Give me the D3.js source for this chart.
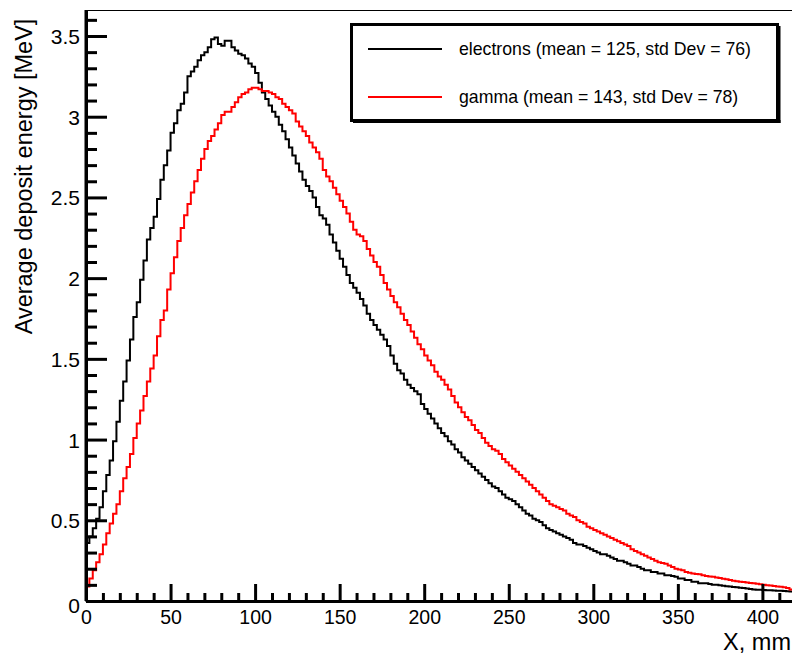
<!DOCTYPE html>
<html>
<head>
<meta charset="utf-8">
<script src="https://cdn.jsdelivr.net/npm/d3@7"></script>
<style>
  html, body { margin: 0; padding: 0; background: #fff; overflow: hidden; }
  svg { display: block; }
  text { font-family: "Liberation Sans", Arial, Helvetica, sans-serif; fill: #000; }
</style>
</head>
<body>
<svg id="chart" width="792" height="655"></svg>
<script>
// ---------------- DATA ----------------
const binWidth = 2; // mm
const xTickValues = [0, 50, 100, 150, 200, 250, 300, 350, 400];
const yTickValues = [0, 0.5, 1, 1.5, 2, 2.5, 3, 3.5];
const yTickLabels = ["0", "0.5", "1", "1.5", "2", "2.5", "3", "3.5"];
const seriesNames = ["electrons (mean = 125, std Dev = 76)", "gamma (mean = 143, std Dev = 78)"];
const seriesColors = ["#000000", "#ff0000"];

const electrons = [
  0.36,0.40,0.45,0.51,0.58,0.68,0.78,0.87,0.99,1.11,
  1.24,1.36,1.49,1.62,1.76,1.85,1.99,2.11,2.24,2.31,
  2.38,2.49,2.61,2.70,2.79,2.90,2.96,3.04,3.08,3.15,
  3.25,3.28,3.31,3.35,3.38,3.40,3.43,3.48,3.49,3.45,
  3.44,3.47,3.47,3.43,3.41,3.39,3.38,3.36,3.33,3.31,
  3.27,3.21,3.15,3.11,3.07,3.03,3.00,2.95,2.91,2.86,
  2.81,2.76,2.71,2.66,2.61,2.57,2.54,2.50,2.44,2.39,
  2.37,2.33,2.27,2.22,2.17,2.12,2.07,2.02,1.97,1.94,
  1.91,1.87,1.83,1.78,1.74,1.71,1.68,1.65,1.62,1.58,
  1.52,1.47,1.43,1.41,1.37,1.34,1.32,1.30,1.28,1.22,
  1.19,1.16,1.13,1.10,1.07,1.04,1.02,0.99,0.97,0.94,
  0.92,0.89,0.87,0.85,0.83,0.81,0.79,0.77,0.75,0.73,
  0.71,0.70,0.68,0.66,0.64,0.63,0.62,0.60,0.58,0.56,
  0.54,0.53,0.51,0.50,0.49,0.47,0.45,0.44,0.43,0.42,
  0.41,0.40,0.39,0.38,0.36,0.35,0.35,0.34,0.33,0.32,
  0.31,0.30,0.29,0.29,0.28,0.27,0.26,0.25,0.25,0.24,
  0.23,0.22,0.22,0.21,0.20,0.19,0.19,0.18,0.18,0.17,
  0.17,0.16,0.16,0.155,0.15,0.14,0.14,0.13,0.13,0.12,
  0.12,0.11,0.11,0.11,0.105,0.10,0.10,0.097,0.095,0.092,
  0.090,0.087,0.085,0.082,0.080,0.077,0.074,0.072,0.070,0.070,
  0.068,0.067,0.066,0.065,0.064,0.063,0.062,0.060,0.059,0.058
];

const gamma = [
  0.09,0.14,0.19,0.24,0.29,0.35,0.42,0.48,0.54,0.60,
  0.68,0.76,0.83,0.91,1.01,1.10,1.18,1.27,1.36,1.44,
  1.52,1.64,1.74,1.80,1.93,2.03,2.13,2.23,2.31,2.39,
  2.46,2.53,2.60,2.67,2.74,2.80,2.85,2.88,2.92,2.96,
  3.01,3.03,3.03,3.06,3.09,3.12,3.14,3.15,3.17,3.18,
  3.18,3.17,3.16,3.16,3.15,3.14,3.12,3.11,3.08,3.06,
  3.04,3.02,2.97,2.94,2.91,2.88,2.84,2.81,2.78,2.74,
  2.67,2.63,2.60,2.56,2.52,2.48,2.44,2.40,2.35,2.30,
  2.27,2.26,2.23,2.18,2.14,2.10,2.07,2.02,1.97,1.93,
  1.89,1.85,1.82,1.78,1.74,1.71,1.67,1.63,1.59,1.56,
  1.52,1.49,1.46,1.42,1.39,1.37,1.34,1.31,1.27,1.23,
  1.20,1.17,1.14,1.12,1.09,1.06,1.04,1.01,0.98,0.96,
  0.94,0.93,0.91,0.88,0.86,0.84,0.82,0.80,0.78,0.76,
  0.74,0.72,0.70,0.68,0.66,0.64,0.62,0.60,0.59,0.58,
  0.57,0.56,0.54,0.53,0.52,0.50,0.49,0.48,0.46,0.45,
  0.44,0.43,0.42,0.41,0.40,0.39,0.38,0.37,0.36,0.35,
  0.34,0.32,0.31,0.30,0.29,0.28,0.27,0.26,0.25,0.24,
  0.235,0.23,0.22,0.21,0.20,0.195,0.19,0.18,0.175,0.17,
  0.167,0.165,0.16,0.155,0.152,0.15,0.146,0.142,0.138,0.134,
  0.130,0.126,0.122,0.120,0.117,0.114,0.112,0.110,0.107,0.104,
  0.100,0.098,0.096,0.093,0.090,0.088,0.085,0.080,0.072,0.068
];

// ---------------- CHART ----------------
const svg = d3.select("#chart");
const plotLeft = 86, plotBottom = 601, plotTop = 10, plotRight = 792;

const x = d3.scaleLinear().domain([0, 417.5]).range([plotLeft, plotRight]);
const y = d3.scaleLinear().domain([0, 3.661]).range([plotBottom, plotTop]);

svg.append("rect").attr("width", 792).attr("height", 655).attr("fill", "#fff");

svg.append("defs").append("clipPath").attr("id", "plotclip")
  .append("rect").attr("x", plotLeft).attr("y", plotTop)
  .attr("width", plotRight - plotLeft + 20).attr("height", plotBottom - plotTop);

function histPoints(vals) {
  const pts = vals.map((v, i) => [i * binWidth, v]);
  pts.push([vals.length * binWidth, vals[vals.length - 1]]);
  return pts;
}
const line = d3.line().x(d => x(d[0])).y(d => y(d[1])).curve(d3.curveStepAfter);

const g = svg.append("g").attr("clip-path", "url(#plotclip)");
[electrons, gamma].forEach((vals, k) => {
  g.append("path").datum(histPoints(vals))
    .attr("d", line).attr("fill", "none")
    .attr("stroke", seriesColors[k]).attr("stroke-width", 2);
});

// top frame
svg.append("line").attr("x1", plotLeft).attr("x2", plotRight + 5)
  .attr("y1", plotTop + 0.5).attr("y2", plotTop + 0.5)
  .attr("stroke", "#000").attr("stroke-width", 1.2);

// x axis minor ticks
const xMinor = d3.range(0, 420, 10).filter(v => v % 50 !== 0);
svg.append("g").attr("transform", `translate(0,${plotBottom})`)
  .call(d3.axisBottom(x).tickValues(xMinor).tickSize(-8).tickFormat(""))
  .call(s => s.select(".domain").remove())
  .call(s => s.selectAll("line").attr("stroke-width", 3));

// x axis major
const xAx = svg.append("g").attr("transform", `translate(0,${plotBottom})`)
  .call(d3.axisBottom(x).tickValues(xTickValues).tickSize(-17).tickSizeOuter(0).tickFormat(d3.format("d")));
xAx.select(".domain").attr("stroke-width", 3);
xAx.selectAll(".tick line").attr("stroke-width", 3);
xAx.selectAll(".tick text").attr("dy", null).attr("y", 23)
  .style("font-size", "19.5px").style("font-family", "'Liberation Sans', Arial, sans-serif");

// y axis minor
const yMinor = d3.range(0, 37, 1).map(v => v / 10).filter(v => Math.round(v * 10) % 5 !== 0);
svg.append("g").attr("transform", `translate(${plotLeft},0)`)
  .call(d3.axisLeft(y).tickValues(yMinor).tickSize(-11).tickFormat(""))
  .call(s => s.select(".domain").remove())
  .call(s => s.selectAll("line").attr("stroke-width", 3));

// y axis major
const yAx = svg.append("g").attr("transform", `translate(${plotLeft},0)`)
  .call(d3.axisLeft(y).tickValues(yTickValues).tickSize(-21).tickSizeOuter(0)
    .tickFormat((d, i) => yTickLabels[i]));
yAx.select(".domain").attr("stroke-width", 3);
yAx.selectAll(".tick line").attr("stroke-width", 3);
yAx.selectAll(".tick text").attr("dy", null).attr("x", -6)
  .attr("y", d => d === 0 ? 11 : 7.5)
  .style("font-size", "21px").style("font-family", "'Liberation Sans', Arial, sans-serif");

svg.append("line").attr("x1", plotLeft).attr("x2", plotLeft).attr("y1", plotTop).attr("y2", plotBottom)
  .attr("stroke", "#000").attr("stroke-width", 3);

// axis titles
svg.append("text").attr("x", 791).attr("y", 650).attr("text-anchor", "end")
  .style("font-size", "23.5px").text("X, mm");
svg.append("text").attr("transform", "translate(32,176.5) rotate(-90)")
  .attr("text-anchor", "middle").style("font-size", "23.5px")
  .text("Average deposit energy [MeV]");

// legend
const lg = svg.append("g");
lg.append("rect").attr("x", 351.5).attr("y", 24.5).attr("width", 426).attr("height", 96)
  .attr("fill", "#fff").attr("stroke", "#000").attr("stroke-width", 3);
lg.append("line").attr("x1", 779).attr("x2", 779).attr("y1", 26).attr("y2", 123)
  .attr("stroke", "#000").attr("stroke-width", 3);
lg.append("line").attr("x1", 353).attr("x2", 780.5).attr("y1", 121.5).attr("y2", 121.5)
  .attr("stroke", "#000").attr("stroke-width", 3);
const legendY = [49, 97];
seriesNames.forEach((name, k) => {
  lg.append("line").attr("x1", 368).attr("x2", 442).attr("y1", legendY[k]).attr("y2", legendY[k])
    .attr("stroke", seriesColors[k]).attr("stroke-width", 2);
  lg.append("text").attr("x", 459).attr("y", legendY[k] + 6).style("font-size", "17.7px").text(name);
});
</script>
</body>
</html>
